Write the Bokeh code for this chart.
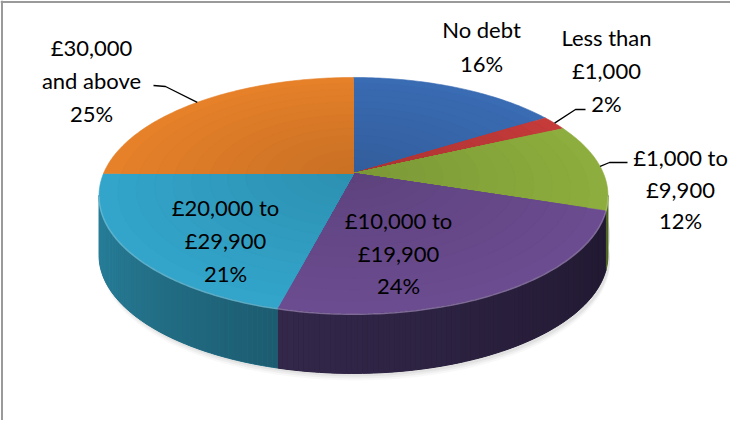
import numpy as np
from bokeh.plotting import figure
from bokeh.models import Range1d, Span, ColumnDataSource
from bokeh.core.properties import value
from bokeh.embed import file_html
from bokeh.resources import INLINE

# ---------------- data ----------------
categories = ["No debt", "Less than\n£1,000", "£1,000 to\n£9,900",
              "£10,000 to\n£19,900", "£20,000 to\n£29,900", "£30,000\nand above"]
shares = [16, 2, 12, 24, 21, 25]          # percent
pct_labels = [f"{v}%" for v in shares]

# ---------------- styles / layout ----------------
top_colors = ["#3A6CB3", "#C43B3A", "#8DAE3E", "#6C4C90", "#33A5CA", "#E6812A"]
side_colors = [("#213F6A", "#2C5590"), ("#6E1F1E", "#8E2A29"), ("#465A20", "#5A7229"),
               ("#201830", "#34284B"), ("#1D5C70", "#2A86A2"), ("#7A4415", "#A45B1D")]
FONT = value("Lato")
FSIZE = "22px"

CX, CY = 353.0, 173.0      # projected centre of the pie (page pixels)
RX, RY = 250.0, 113.9      # radii of the projected disc
PERSP = 0.186              # perspective strength
DEPTH = 60.0               # thickness of the pie

# label layout: first-line centre, line step, leader (label end, elbow) or None
label_layout = [
    dict(x=481, y=29, step=34, leader=None),
    dict(x=606, y=37, step=33, leader=[(585, 109), (575, 109)]),
    dict(x=680, y=157, step=31.5, leader=[(627, 162), (609, 162)]),
    dict(x=398, y=220, step=32.5, leader=None),
    dict(x=225, y=207, step=33, leader=None),
    dict(x=91, y=47, step=33, leader=[(153, 85), (165, 86)]),
]


def project(phi_deg, r=1.0):
    phi = np.radians(phi_deg)
    X = r * np.sin(phi)
    Y = r * np.cos(phi)
    s = 1.0 / (1.0 + PERSP * Y)
    return CX + RX * X * s, CY - RY * Y * s


def mix(c1, c2, t):
    a = np.array([int(c1[i:i + 2], 16) for i in (1, 3, 5)], float)
    b = np.array([int(c2[i:i + 2], 16) for i in (1, 3, 5)], float)
    c = np.clip(a + (b - a) * t, 0, 255).astype(int)
    return "#%02x%02x%02x" % tuple(c)


def scale(c, f):
    a = np.array([int(c[i:i + 2], 16) for i in (1, 3, 5)], float) * f
    a = np.clip(a, 0, 255).astype(int)
    return "#%02x%02x%02x" % tuple(a)


W, H = 730, 420
p = figure(width=W, height=H, output_backend="svg", toolbar_location=None,
           x_range=Range1d(0, W), y_range=Range1d(H, 0),
           min_border=0, outline_line_color=None)
p.axis.visible = False
p.grid.visible = False
p.background_fill_color = "white"

# angles
total = float(sum(shares))
bounds = np.concatenate([[0.0], np.cumsum(shares) / total * 360.0])
vis_lo = np.degrees(np.arccos(-PERSP))
vis_hi = 360.0 - vis_lo

# ---- soft shadow under the pie ----
ang_all = np.linspace(vis_lo - 10, vis_hi + 10, 160)
sx, sy = project(ang_all)
for off, a in [(7, 0.06), (5, 0.08), (3, 0.10)]:
    xs = list(sx + 2) + list(sx[::-1] + 2)
    ys = list(sy + DEPTH + off) + list(sy[::-1] + DEPTH - 20)
    p.patch(xs, ys, fill_color="#808080", fill_alpha=a, line_color=None)

# ---- side walls (front half only) ----
bxs, bys, bcol = [], [], []
sxs, sys_, scol = [], [], []
for i in range(len(shares)):
    a0, a1 = max(bounds[i], vis_lo), min(bounds[i + 1], vis_hi)
    if a1 <= a0:
        continue
    n = max(2, int((a1 - a0) / 1.0) + 1)
    angs = np.linspace(a0, a1, n)
    tx, ty = project(angs)
    dark, light = side_colors[i]
    # base wall in the mid colour, so that seams between strips vanish
    bxs.append(list(tx) + list(tx[::-1]))
    bys.append(list(ty) + list(ty[::-1] + DEPTH))
    bcol.append(mix(dark, light, 0.5))
    for k in range(n - 1):
        t = (0.5 * (angs[k] + angs[k + 1]) - a0) / (a1 - a0)
        sxs.append([tx[k], tx[k + 1], tx[k + 1], tx[k]])
        sys_.append([ty[k], ty[k + 1], ty[k + 1] + DEPTH, ty[k] + DEPTH])
        scol.append(mix(dark, light, t))
p.patches(xs="xs", ys="ys", fill_color="c", line_color="c", line_width=1,
          source=ColumnDataSource(dict(xs=bxs, ys=bys, c=bcol)))
p.patches(xs="xs", ys="ys", fill_color="c", line_color=None,
          source=ColumnDataSource(dict(xs=sxs, ys=sys_, c=scol)))

# ---- top faces with a soft radial shading ----
N_RINGS = 14
txs, tys, tcol = [], [], []
for i in range(len(shares)):
    a0, a1 = bounds[i], bounds[i + 1]
    n = max(3, int((a1 - a0) / 1.0) + 2)
    angs = np.linspace(a0, a1, n)
    for k in range(N_RINGS):
        r = 1.0 - k / N_RINGS
        ax, ay = project(angs, r)
        txs.append([CX] + list(ax))
        tys.append([CY] + list(ay))
        tcol.append(scale(top_colors[i], 0.87 + 0.13 * r))
p.patches(xs="xs", ys="ys", fill_color="c", line_color="c", line_width=0.6,
          source=ColumnDataSource(dict(xs=txs, ys=tys, c=tcol)))

# ---- rim highlight along the front edge ----
for i in range(len(shares)):
    a0, a1 = max(bounds[i], vis_lo), min(bounds[i + 1], vis_hi)
    if a1 <= a0:
        continue
    angs = np.linspace(a0, a1, max(2, int(a1 - a0) + 1))
    rx_, ry_ = project(angs)
    p.line(rx_, ry_ + 0.8, line_color=mix(top_colors[i], "#ffffff", 0.3),
           line_width=1.5, line_alpha=0.75)

# ---- labels and leader lines ----
lx, ly, lt = [], [], []
for i, (name, pct) in enumerate(zip(categories, pct_labels)):
    lay = label_layout[i]
    lines = name.split("\n") + [pct]
    for j, line in enumerate(lines):
        lx.append(lay["x"])
        ly.append(lay["y"] + j * lay["step"])
        lt.append(line)
    if lay["leader"]:
        mid = 0.5 * (bounds[i] + bounds[i + 1])
        ex, ey = project(mid)
        pts = lay["leader"] + [(float(ex), float(ey))]
        p.line([q[0] for q in pts], [q[1] for q in pts], line_color="black", line_width=1.3)

p.text(x="x", y="y", text="t", source=ColumnDataSource(dict(x=lx, y=ly, t=lt)),
       text_align="center", text_baseline="middle", text_font=FONT,
       text_font_size=FSIZE, text_color="black")

# ---- chart frame (top and left edges) ----
p.add_layout(Span(location=1.5, dimension="height", line_color="#9A9A9A", line_width=2))
p.add_layout(Span(location=1.5, dimension="width", line_color="#9A9A9A", line_width=2))

open("out.html", "w").write(file_html(p, INLINE))
